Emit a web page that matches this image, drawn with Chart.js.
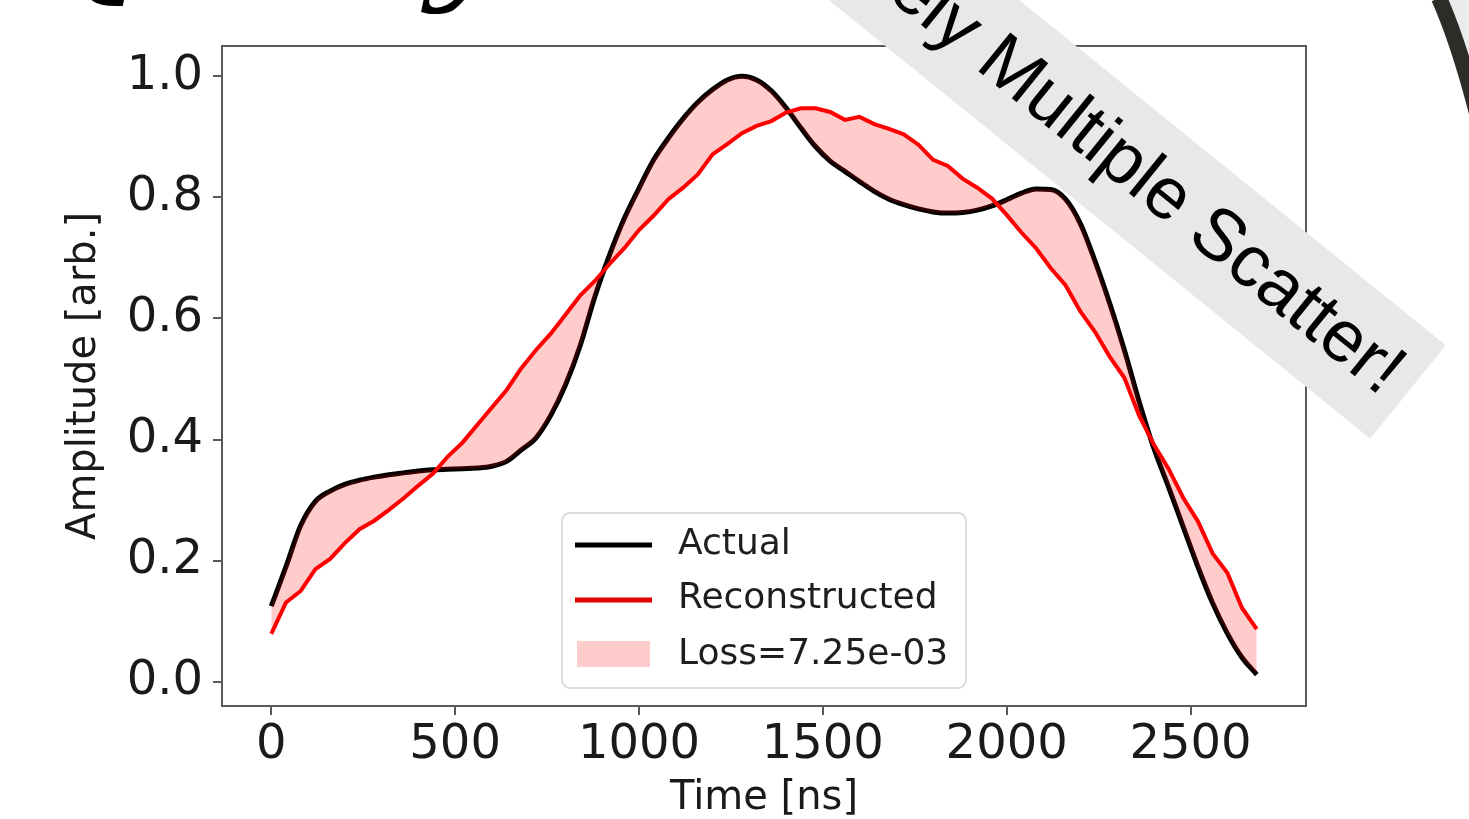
<!DOCTYPE html>
<html>
<head>
<meta charset="utf-8">
<script src="https://cdn.jsdelivr.net/npm/chart.js@4.4.0/dist/chart.umd.min.js"></script>
<style>
    html, body { margin: 0; padding: 0; background: #fff; overflow: hidden; }
</style>
</head>
<body>
<canvas id="grafico" width="1469" height="819"></canvas>
<script>
// tempo em ns (eixo x)
const tempos = [
    0, 40, 80, 120, 160, 200, 240, 280, 320, 360,
    400, 440, 480, 520, 560, 600, 640, 680, 720, 760,
    800, 840, 880, 920, 960, 1000, 1040, 1080, 1120, 1160,
    1200, 1240, 1280, 1320, 1360, 1400, 1440, 1480, 1520, 1560,
    1600, 1640, 1680, 1720, 1760, 1800, 1840, 1880, 1920, 1960,
    2000, 2040, 2080, 2120, 2160, 2200, 2240, 2280, 2320, 2360,
    2400, 2440, 2480, 2520, 2560, 2600, 2640, 2680
];

const valoresAtual = [
    0.125, 0.190, 0.258, 0.298, 0.315, 0.326, 0.333, 0.338, 0.342, 0.345,
    0.348, 0.350, 0.351, 0.352, 0.353, 0.356, 0.364, 0.383, 0.403, 0.440,
    0.490, 0.555, 0.636, 0.705, 0.765, 0.815, 0.862, 0.898, 0.930, 0.957,
    0.978, 0.994, 1.000, 0.994, 0.976, 0.948, 0.915, 0.884, 0.860, 0.843,
    0.826, 0.810, 0.797, 0.788, 0.781, 0.776, 0.774, 0.775, 0.779, 0.786,
    0.796, 0.807, 0.814, 0.813, 0.797, 0.757, 0.695, 0.625, 0.548, 0.463,
    0.386, 0.322, 0.256, 0.190, 0.130, 0.080, 0.040, 0.012
];

const valoresReconstruido = [
    0.079, 0.131, 0.150, 0.186, 0.203, 0.229, 0.252, 0.266, 0.284, 0.303,
    0.324, 0.344, 0.372, 0.395, 0.424, 0.453, 0.482, 0.518, 0.548, 0.575,
    0.606, 0.638, 0.662, 0.690, 0.716, 0.746, 0.770, 0.797, 0.816, 0.838,
    0.871, 0.888, 0.906, 0.918, 0.926, 0.940, 0.947, 0.947, 0.941, 0.928,
    0.933, 0.921, 0.913, 0.904, 0.887, 0.862, 0.852, 0.831, 0.816, 0.798,
    0.771, 0.742, 0.716, 0.683, 0.655, 0.612, 0.578, 0.537, 0.502, 0.440,
    0.392, 0.352, 0.304, 0.265, 0.212, 0.180, 0.122, 0.087
];

const ticksX = [0, 500, 1000, 1500, 2000, 2500];
const ticksY = [0.0, 0.2, 0.4, 0.6, 0.8, 1.0];

const legendaTextos = ["Actual", "Reconstructed", "Loss=7.25e-03"];
const textoFaixa = "Likely Multiple Scatter!";
const textoTitulo = "Quality";

function montarPontos(valores) {
    return tempos.map(function (t, i) {
        return { x: t, y: valores[i] };
    });
}

const corPerda = "rgba(255, 0, 0, 0.2)";

// moldura, legenda, faixa e enfeites do slide
const extras = {
    id: "extras",
    afterDraw: function (chart) {
        const ctx = chart.ctx;
        const area = chart.chartArea;

        ctx.save();
        ctx.strokeStyle = "#5a5a5a";
        ctx.lineWidth = 2;
        ctx.strokeRect(area.left, area.top, area.right - area.left, area.bottom - area.top);
        ctx.restore();

        // legenda
        ctx.save();
        let lx = 562, ly = 513, lw = 404, lh = 175, r = 8;
        ctx.beginPath();
        ctx.moveTo(lx + r, ly);
        ctx.arcTo(lx + lw, ly, lx + lw, ly + lh, r);
        ctx.arcTo(lx + lw, ly + lh, lx, ly + lh, r);
        ctx.arcTo(lx, ly + lh, lx, ly, r);
        ctx.arcTo(lx, ly, lx + lw, ly, r);
        ctx.closePath();
        ctx.fillStyle = "rgba(255,255,255,0.85)";
        ctx.fill();
        ctx.strokeStyle = "#dcdcdc";
        ctx.lineWidth = 2;
        ctx.stroke();

        ctx.lineWidth = 5;
        ctx.strokeStyle = "#000";
        ctx.beginPath();
        ctx.moveTo(575, 545);
        ctx.lineTo(652, 545);
        ctx.stroke();
        ctx.strokeStyle = "#e00000";
        ctx.beginPath();
        ctx.moveTo(575, 600);
        ctx.lineTo(652, 600);
        ctx.stroke();
        ctx.fillStyle = corPerda;
        ctx.fillRect(577, 641, 73, 26);

        ctx.fillStyle = "#1e1e1e";
        ctx.font = "36px 'DejaVu Sans'";
        ctx.textBaseline = "middle";
        ctx.textAlign = "left";
        ctx.fillText(legendaTextos[0], 678, 545);
        ctx.fillText(legendaTextos[1], 678, 599);
        ctx.fillText(legendaTextos[2], 678, 655);
        ctx.restore();

        // faixa inclinada
        ctx.save();
        ctx.translate(1408, 392);
        ctx.rotate(39 * Math.PI / 180);
        ctx.fillStyle = "#e8e8e8";
        ctx.fillRect(-900, -60, 900, 120);
        ctx.fillStyle = "#000";
        ctx.font = "73px 'Liberation Sans'";
        ctx.textAlign = "right";
        ctx.textBaseline = "middle";
        ctx.fillText(textoFaixa, -18, 1);
        ctx.restore();

        // forma cinza com borda escura no canto
        ctx.save();
        ctx.beginPath();
        ctx.moveTo(1439, -2);
        ctx.quadraticCurveTo(1460, 45, 1480, 125);
        ctx.lineTo(1482, -2);
        ctx.closePath();
        ctx.fillStyle = "#ebebeb";
        ctx.fill();
        ctx.beginPath();
        ctx.moveTo(1439, -2);
        ctx.quadraticCurveTo(1460, 45, 1480, 125);
        ctx.strokeStyle = "#2e2c28";
        ctx.lineWidth = 16;
        ctx.stroke();
        ctx.restore();

        // titulo cortado no topo
        ctx.save();
        ctx.fillStyle = "#000";
        ctx.font = "italic 125px 'DejaVu Serif'";
        ctx.textBaseline = "alphabetic";
        ctx.textAlign = "left";
        ctx.fillText(textoTitulo, 38, -14);
        ctx.restore();
    }
};

let grafico = new Chart(document.getElementById("grafico"), {
    type: "line",
    data: {
        datasets: [{
            label: legendaTextos[0],
            data: montarPontos(valoresAtual),
            borderColor: "#000000",
            borderWidth: 5,
            pointRadius: 0,
            cubicInterpolationMode: "monotone",
            fill: false,
            order: 2
        }, {
            label: legendaTextos[1],
            data: montarPontos(valoresReconstruido),
            borderColor: "#ff0000",
            borderWidth: 4,
            pointRadius: 0,
            tension: 0,
            fill: { target: 0, above: corPerda, below: corPerda },
            order: 1
        }]
    },
    options: {
        responsive: false,
        animation: false,
        layout: {
            padding: { top: 46, right: 163, left: 0, bottom: 0 }
        },
        plugins: {
            legend: { display: false },
            tooltip: { enabled: false }
        },
        scales: {
            x: {
                type: "linear",
                min: -134,
                max: 2814,
                afterBuildTicks: function (escala) {
                    escala.ticks = ticksX.map(function (v) { return { value: v }; });
                },
                afterFit: function (escala) {
                    escala.height = 113;
                },
                grid: {
                    drawOnChartArea: false,
                    tickLength: 9,
                    color: "#5a5a5a",
                    lineWidth: 2
                },
                border: { display: false },
                ticks: {
                    font: { family: "DejaVu Sans", size: 48 },
                    color: "#1a1a1a",
                    padding: 2,
                    maxRotation: 0,
                    autoSkip: false,
                    callback: function (valor) {
                        return String(valor);
                    }
                },
                title: {
                    display: true,
                    text: "Time [ns]",
                    font: { family: "DejaVu Sans", size: 40, lineHeight: 1 },
                    color: "#1a1a1a",
                    padding: { top: 0, bottom: 0 }
                }
            },
            y: {
                min: -0.04,
                max: 1.05,
                afterBuildTicks: function (escala) {
                    escala.ticks = ticksY.map(function (v) { return { value: v }; });
                },
                afterFit: function (escala) {
                    escala.width = 222;
                },
                grid: {
                    drawOnChartArea: false,
                    tickLength: 9,
                    color: "#5a5a5a",
                    lineWidth: 2
                },
                border: { display: false },
                ticks: {
                    font: { family: "DejaVu Sans", size: 48 },
                    color: "#1a1a1a",
                    padding: 10,
                    autoSkip: false,
                    callback: function (valor) {
                        return valor.toFixed(1);
                    }
                },
                title: {
                    display: true,
                    text: "Amplitude [arb.]",
                    font: { family: "DejaVu Sans", size: 40, lineHeight: 1.2 },
                    color: "#1a1a1a",
                    padding: { top: 61, bottom: 0 }
                }
            }
        }
    },
    plugins: [extras]
});
</script>
</body>
</html>
